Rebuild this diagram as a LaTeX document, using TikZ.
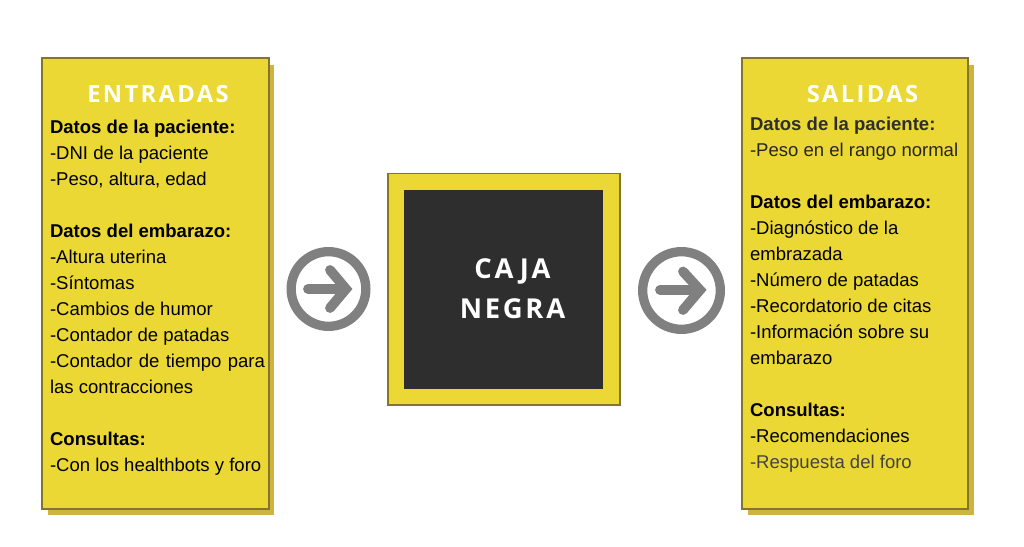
\documentclass[tikz,border=0pt]{standalone}
\usepackage{fontspec}
\setmainfont{Liberation Sans}
\newfontfamily\titlefont[LetterSpace=10]{Open Sans}
\usetikzlibrary{positioning}
\definecolor{boxyellow}{HTML}{EBD835}
\definecolor{boxedge}{HTML}{85752A}
\definecolor{boxshadow}{HTML}{CFB33F}
\definecolor{boxdark}{HTML}{2E2E2E}
\definecolor{icongray}{HTML}{808080}
\tikzset{
  listbox/.style={draw=boxedge,line width=1.1pt,fill=boxyellow},
  shadowbox/.style={fill=boxshadow},
  titletext/.style={anchor=base,text=white,font=\titlefont\fontsize{13.5}{16}\bfseries},
  bigtitle/.style={titletext,font=\titlefont\fontsize{15.6}{18}\bfseries},
  listtext/.style={anchor=north west,inner sep=0pt,font=\fontsize{10.55}{14.78}\selectfont,align=left},
  iconring/.style={draw=icongray,circle,inner sep=0pt,line width=5.3pt},
  iconarrow/.style={draw=icongray,line width=5.6pt,line cap=round}
}
\begin{document}
\begin{tikzpicture}[x=0.02cm,y=-0.02cm]
  \useasboundingbox (0,0) rectangle (1024,547);

  % Left column
  \fill[shadowbox] (48,65) rectangle (274,515);
  \draw[listbox] (42.2,58.2) rectangle (269,509);
  \node[titletext] (entradas) at (158,103) {ENTRADAS};
  \node[listtext] (entradaslist) at (49.7,120) {\textbf{Datos de la paciente:}\\
    -DNI de la paciente\\
    -Peso, altura, edad\\[14.78pt]
    \textbf{Datos del embarazo:}\\
    -Altura uterina\\
    -Síntomas\\
    -Cambios de humor\\
    -Contador de patadas\\
    \hbox to 122.3pt{-Contador\hfil de\hfil tiempo\hfil para}\\
    las contracciones\\[14.78pt]
    \textbf{Consultas:}\\
    -Con los healthbots y foro};

  % Centre box
  \draw[listbox,line width=0.8pt] (388,173.5) rectangle (620,405);
  \fill[boxdark] (404,190) rectangle (603,389);
  \node[bigtitle] (caja) at (512.5,278) {CAJA};
  \node[bigtitle] (negra) at (512.5,318) {NEGRA};

  % Round arrows
  \node[iconring,minimum size=42.5pt] (ringleft) at (328.5,289) {};
  \draw[iconarrow] (308,289) -- (345,289);
  \draw[iconarrow,line join=miter] (330,270) -- (346,289) -- (330,308);
  \node[iconring,minimum size=44.2pt] (ringright) at (681.5,290.5) {};
  \draw[iconarrow] (660,290) -- (699,290);
  \draw[iconarrow,line join=miter] (683,271.5) -- (700,290) -- (683,310);

  % Right column
  \fill[shadowbox] (748,65) rectangle (974,515);
  \draw[listbox] (742.2,58.2) rectangle (968,509);
  \node[titletext] (salidas) at (862.5,103) {SALIDAS};
  \node[listtext] (salidaslist) at (749.7,117) {\textbf{\textcolor{boxdark}{Datos de la paciente:}}\\
    \textcolor{black!85}{-Peso en el rango normal}\\[14.78pt]
    \textbf{Datos del embarazo:}\\
    -Diagnóstico de la\\
    embrazada\\
    -Número de patadas\\
    -Recordatorio de citas\\
    -Información sobre su\\
    embarazo\\[14.78pt]
    \textbf{Consultas:}\\
    -Recomendaciones\\
    \textcolor{boxdark!90}{-Respuesta del foro}};
\end{tikzpicture}
\end{document}
